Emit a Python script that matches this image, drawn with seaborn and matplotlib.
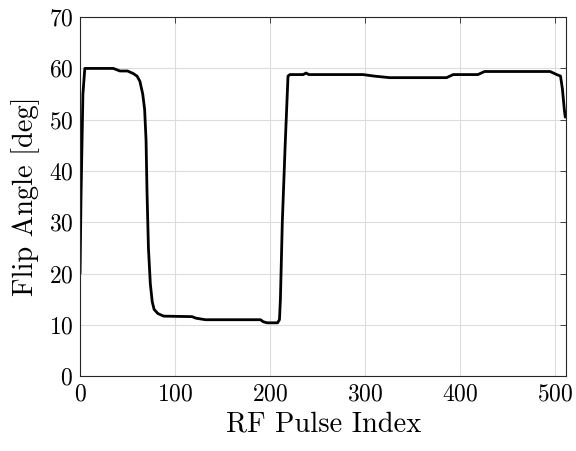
import numpy as np
import matplotlib
matplotlib.use("Agg")
import matplotlib.pyplot as plt
import seaborn as sns
import pandas as pd

# breakpoints
pulse_idx = [0, 1, 3, 5, 35, 42, 50, 56, 60, 63, 66, 68, 69.5, 70.5, 72, 74, 76, 78,
             82, 88, 118, 122, 132, 190, 193, 197, 208, 210, 211, 213, 216, 219, 221,
             235, 238, 241, 298, 310, 326, 386, 393, 419, 426, 495, 502, 506, 508,
             510, 511]
flip_deg = [20, 35, 55, 60, 60, 59.5, 59.5, 59, 58.5, 57.5, 55, 52, 46, 36, 25, 18,
            14.5, 13, 12.2, 11.7, 11.6, 11.3, 11.0, 11.0, 10.6, 10.4, 10.4, 11, 15,
            30, 45, 58.5, 58.8, 58.8, 59.1, 58.8, 58.8, 58.5, 58.2, 58.2, 58.8, 58.8,
            59.4, 59.4, 58.8, 58.5, 56, 52, 50.5]

x_ticks = [0, 100, 200, 300, 400, 500]
y_ticks = [0, 10, 20, 30, 40, 50, 60, 70]

df = pd.DataFrame({"idx": pulse_idx, "angle": flip_deg})

sns.set_style("white")
plt.rcParams["font.family"] = ["cmr10", "DejaVu Serif"]
plt.rcParams["axes.formatter.use_mathtext"] = True
plt.rcParams["mathtext.fontset"] = "cm"
plt.rcParams["text.color"] = "black"
plt.rcParams["axes.labelcolor"] = "black"

fig = plt.figure(figsize=(5.76, 4.51), dpi=100)
ax = fig.add_axes([0.139, 0.166, 0.844, 0.796])

sns.lineplot(data=df, x="idx", y="angle", color="black", linewidth=2, ax=ax,
             estimator=None, sort=False)

ax.set_xlim(0, 512)
ax.set_ylim(0, 70)
ax.set_xticks(x_ticks)
ax.set_yticks(y_ticks)
ax.grid(True, color="#dcdcdc", linewidth=0.8)
ax.set_axisbelow(True)
ax.tick_params(direction="in", top=True, right=True, length=4, width=0.6,
               labelsize=17, colors="#262626", labelcolor="black", pad=5)
for s in ax.spines.values():
    s.set_color("#262626")
    s.set_linewidth(0.8)

ax.set_xlabel("RF Pulse Index", fontsize=20.5, labelpad=4)
ax.set_ylabel("Flip Angle [deg]", fontsize=20.5, labelpad=6)

fig.savefig("out.png", dpi=100)
